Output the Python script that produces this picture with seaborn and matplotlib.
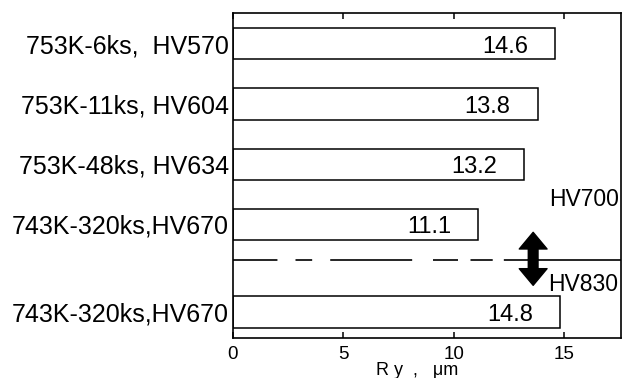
import matplotlib
matplotlib.use("Agg")
import matplotlib.pyplot as plt
import seaborn as sns
import pandas as pd
from matplotlib.patches import FancyArrowPatch

# ---- data ----
labels = ["753K-6ks,  HV570", "753K-11ks, HV604", "753K-48ks, HV634",
          "743K-320ks,HV670", "743K-320ks,HV670"]
ry_values = [14.6, 13.8, 13.2, 11.1, 14.8]
value_texts = ["14.6", "13.8", "13.2", "11.1", "14.8"]
xtick_vals = [0, 5, 10, 15]
hv_marks = ["HV700", "HV830"]
xlabel_text = "R y  ,   \u03bcm"

# ---- layout ----
row_pos = [0, 1, 2, 3, 4.45]
sep_y = 3.59
arrow_x = 13.6
arrow_top, arrow_mid, arrow_bot = 3.13, 3.58, 4.01
hv_text_pos = [(17.47, 2.58), (17.47, 3.99)]

sns.set_theme(style="ticks", rc={
    "axes.edgecolor": "black", "text.color": "black", "xtick.color": "black",
    "ytick.color": "black", "axes.labelcolor": "black"})
plt.rcParams['font.family'] = ['Liberation Sans', 'DejaVu Sans']
plt.rcParams['lines.scale_dashes'] = False

fig = plt.figure(figsize=(6.23, 3.78), dpi=100)
ax = fig.add_axes([233 / 623, 1 - 338 / 378, (621 - 233) / 623, (338 - 13) / 378])

df = pd.DataFrame({"Ry": ry_values, "pos": row_pos})
sns.barplot(data=df, x="Ry", y="pos", orient="h", native_scale=True, width=0.52,
            color="white", saturation=1, edgecolor="black", linewidth=1.1,
            errorbar=None, ax=ax)

for v, p, t in zip(ry_values, row_pos, value_texts):
    ax.annotate(t, xy=(v, p), xytext=(-27, -3), textcoords="offset pixels",
                ha="right", va="center", fontsize=17)

# separator line
ax.axhline(sep_y, color="black", lw=1.2,
           linestyle=(0, (32, 13, 12, 13, 59, 15, 18, 9, 16, 8, 200, 1)))

# double arrow
for end in (arrow_top, arrow_bot):
    ax.add_patch(FancyArrowPatch((arrow_x, arrow_mid), (arrow_x, end),
                                 arrowstyle="simple,head_length=12,head_width=20,tail_width=7",
                                 mutation_scale=1, color="black", shrinkA=0, shrinkB=0,
                                 zorder=5))

for txt, (tx, ty) in zip(hv_marks, hv_text_pos):
    ax.text(tx, ty, txt, ha="right", va="center", fontsize=16.5)

ax.set_xlim(0, 17.58)
ax.set_ylim(4.884, -0.51)
ax.set_yticks(row_pos, labels, fontsize=18)
ax.tick_params(axis="y", length=0, pad=3)
ax.set_xticks(xtick_vals)
ax.tick_params(axis="x", direction="in", length=4, width=1.1, top=True,
               labelsize=13.5, pad=6)
ax.set_ylabel("")
ax.set_xlabel(xlabel_text, fontsize=13)
ax.xaxis.set_label_coords(0.474, -0.074)
for s in ax.spines.values():
    s.set_linewidth(1.2)

fig.savefig("out.png", dpi=100)
